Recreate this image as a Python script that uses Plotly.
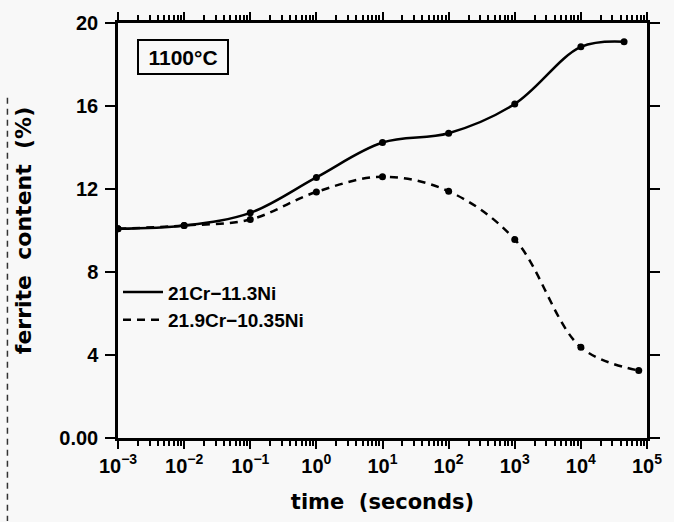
import plotly.graph_objects as go

# ---- data ----
time_a = [1e-3, 1e-2, 1e-1, 1e0, 1e1, 1e2, 1e3, 1e4, 4.5e4]
ferrite_a = [10.08, 10.24, 10.85, 12.56, 14.24, 14.69, 16.1, 18.85, 19.1]

time_b = [1e-3, 1e-2, 1e-1, 1e0, 1e1, 1e2, 1e3, 1e4, 7.5e4]
ferrite_b = [10.08, 10.24, 10.53, 11.86, 12.59, 11.89, 9.57, 4.37, 3.25]

name_a = "21Cr−11.3Ni"
name_b = "21.9Cr−10.35Ni"

x_tickvals = [1e-3, 1e-2, 1e-1, 1e0, 1e1, 1e2, 1e3, 1e4, 1e5]
x_ticktext = ["10<sup>−3</sup>", "10<sup>−2</sup>", "10<sup>−1</sup>", "10<sup>0</sup>",
              "10<sup>1</sup>", "10<sup>2</sup>", "10<sup>3</sup>", "10<sup>4</sup>", "10<sup>5</sup>"]
y_tickvals = [0, 4, 8, 12, 16, 20]
y_ticktext = ["0.00", "4", "8", "12", "16", "20"]

FONT = "Liberation Sans"
BG = "#f8f8f8"

fig = go.Figure()
fig.add_trace(go.Scatter(x=time_a, y=ferrite_a, mode="lines+markers",
                         line=dict(color="black", width=2.5, shape="spline", smoothing=1.0),
                         marker=dict(color="black", size=7), showlegend=False))
fig.add_trace(go.Scatter(x=time_b, y=ferrite_b, mode="lines+markers",
                         line=dict(color="black", width=2.5, dash="8px,6px", shape="spline", smoothing=1.0),
                         marker=dict(color="black", size=7), showlegend=False))
# legend entries (lines only)
fig.add_trace(go.Scatter(x=[None], y=[None], mode="lines", name=name_a,
                         line=dict(color="black", width=2.5)))
fig.add_trace(go.Scatter(x=[None], y=[None], mode="lines", name=name_b,
                         line=dict(color="black", width=2.5, dash="8px,6px")))

fig.add_annotation(x=0.035, y=0.962, xref="paper", yref="paper", xanchor="left", yanchor="top",
                   text="<b>1100°C</b>", showarrow=False,
                   font=dict(family=FONT, size=21, color="black"),
                   bordercolor="black", borderwidth=2, borderpad=4, width=80, height=24,
                   bgcolor=BG)

# faint scan line along the left edge of the page
fig.add_shape(type="line", xref="paper", yref="paper", x0=-0.209, x1=-0.209, y0=0.82, y1=-0.2,
              line=dict(color="#333333", width=1.5, dash="6px,5px"))

fig.update_layout(
    width=674, height=522,
    margin=dict(l=118, r=20, t=23, b=83),
    paper_bgcolor=BG, plot_bgcolor=BG,
    font=dict(family=FONT, size=20, color="black", weight="bold"),
    legend=dict(x=0.0, y=0.397, xanchor="left", yanchor="top", bgcolor="rgba(0,0,0,0)",
                font=dict(family=FONT, size=19, color="black", weight="bold"),
                tracegroupgap=0, itemwidth=40),
)
fig.update_xaxes(
    type="log", range=[-3, 5],
    tickvals=x_tickvals, ticktext=x_ticktext,
    showline=True, linecolor="black", linewidth=2.5, mirror="allticks",
    ticks="outside", ticklen=8, tickwidth=2, tickcolor="black",
    minor=dict(ticks="outside", ticklen=5, tickwidth=1.5, tickcolor="black",
               tickvals=[m * 10 ** e for e in range(-3, 5) for m in range(2, 10)]),
    showgrid=False, zeroline=False,
    tickfont=dict(family=FONT, size=20, color="black", weight="bold"),
    title=dict(text="time  (seconds)", standoff=19,
               font=dict(family="DejaVu Sans", size=21, color="black", weight="bold")),
)
fig.update_yaxes(
    range=[0, 20],
    tickvals=y_tickvals, ticktext=y_ticktext,
    showline=True, linecolor="black", linewidth=2.5, mirror="allticks",
    ticks="outside", ticklen=10, tickwidth=2, tickcolor="black",
    ticklabelstandoff=3,
    showgrid=False, zeroline=False,
    tickfont=dict(family=FONT, size=20, color="black", weight="bold"),
    title=dict(text="ferrite  content  (%)", standoff=22,
               font=dict(family="DejaVu Sans", size=22, color="black", weight="bold")),
)

fig.write_html("out.html")
